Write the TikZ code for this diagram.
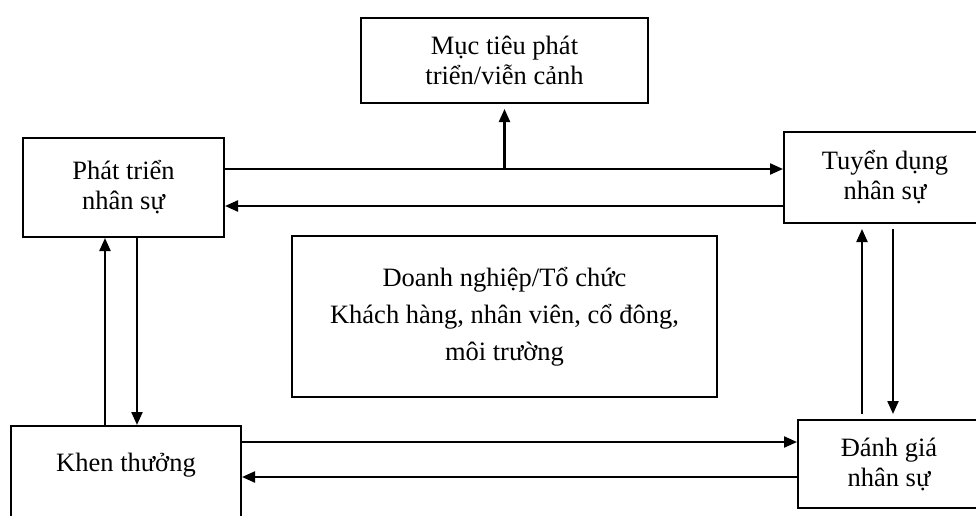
\documentclass[tikz,border=0pt]{standalone}
\usepackage{fontspec}
\setmainfont{Liberation Serif}
\usetikzlibrary{arrows.meta}
\begin{document}
\begin{tikzpicture}[x=1pt,y=-1pt,
 box/.style={draw,line width=2pt,align=center,inner sep=0pt,font=\fontsize{26.5}{30}\selectfont},
 arr/.style={line width=2.2pt,-{Triangle[length=13pt,width=11pt]}}]
\useasboundingbox (0,0) rectangle (976,516);
\clip (0,0) rectangle (976,516);
\node[box,minimum width=287pt,minimum height=85pt] (goal) at (504.5,60.5) {Mục tiêu phát\\triển/viễn cảnh};
\node[box,minimum width=201pt,minimum height=99pt] (dev) at (123.5,187.5) {Phát triển\\nhân sự};
\node[box,minimum width=202pt,minimum height=91pt] (recruit) at (885,177.5) {Tuyển dụng\\nhân sự};
\node[box,minimum width=230pt,minimum height=102pt] (khen) at (126,477) {Khen thưởng\\\mbox{}};
\node[box,minimum width=182pt,minimum height=88pt] (dagia) at (889,464) {Đánh giá\\nhân sự};
\node[box,minimum width=425pt,minimum height=161pt,font=\fontsize{26.5}{37}\selectfont] (org) at (504.5,316.5) {Doanh nghiệp/Tổ chức\\Khách hàng, nhân viên, cổ đông,\\môi trường};
\draw[arr] (dev.east |- 0,169) -- (recruit.west |- 0,169);
\draw[arr,shorten >=5pt] (goal.south |- 0,169) -- (goal.south);
\draw[arr] (recruit.west |- 0,206) -- (dev.east |- 0,206);
\draw[arr] (khen.north -| 105,0) -- (dev.south -| 105,0);
\draw[arr] (dev.south -| 137,0) -- (khen.north -| 137,0);
\draw[arr,shorten <=5pt,shorten >=5pt] (dagia.north -| 862,0) -- (recruit.south -| 862,0);
\draw[arr,shorten <=5pt,shorten >=5pt] (recruit.south -| 893,0) -- (dagia.north -| 893,0);
\draw[arr] (khen.east |- 0,442) -- (dagia.west |- 0,442);
\draw[arr] (dagia.west |- 0,477) -- (khen.east |- 0,477);
\end{tikzpicture}
\end{document}
